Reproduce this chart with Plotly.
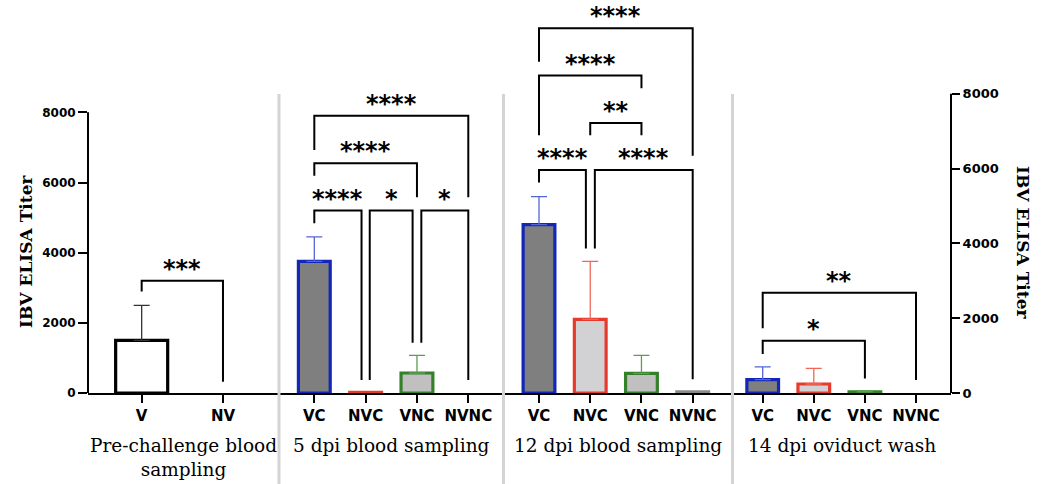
import plotly.graph_objects as go

# ---------------- data ----------------
panel_titles = ["Pre-challenge blood<br>sampling", "5 dpi blood sampling",
                "12 dpi blood sampling", "14 dpi oviduct wash"]

pre_groups = ["V", "NV"]
pre_mean = [1500, 0]
pre_sd = [1000, 0]

groups = ["VC", "NVC", "VNC", "NVNC"]
dpi5_mean = [3750, 20, 570, 0]
dpi5_sd = [700, 0, 500, 0]
dpi12_mean = [4800, 2100, 560, 30]
dpi12_sd = [800, 1650, 510, 0]
dpi14_mean = [360, 240, 30, 0]
dpi14_sd = [340, 420, 20, 0]

y_ticks = [0, 2000, 4000, 6000, 8000]

# significance brackets: (i, j, label, bar level, left leg end, right leg end, left dx, right dx)
pre_sig = [(0, 1, "***", 3200, 2890, 320, 0, 0)]
dpi5_sig = [
    (0, 3, "****", 7900, 6930, 5580, 0, 0),
    (0, 2, "****", 6550, 6190, 5580, 0, 0),
    (0, 1, "****", 5200, 4840, 370, 0, -0.08),
    (1, 2, "*", 5200, 370, 1430, 0.08, -0.085),
    (2, 3, "*", 5200, 1430, 370, 0.085, 0),
]
dpi12_sig = [
    (0, 3, "****", 10400, 9440, 6760, 0, 0),
    (0, 2, "****", 9050, 7350, 8690, 0, 0),
    (1, 2, "**", 7700, 7350, 7350, 0, 0),
    (0, 1, "****", 6360, 6000, 4120, 0, -0.085),
    (1, 3, "****", 6360, 4120, 390, 0.09, 0),
]
dpi14_sig = [
    (0, 3, "**", 2680, 1730, 350, 0, 0),
    (0, 2, "*", 1400, 1040, 390, 0, 0),
]

# ---------------- styles ----------------
W, H = 1046, 484
ML, MR, MT, MB = 88, 95, 10, 91
PW = W - ML - MR
PH = H - MT - MB
LEFT_PX_PER_1000 = 35.08
RIGHT_PX_PER_1000 = 37.41
ymax_left = PH / LEFT_PX_PER_1000 * 1000
ymax_right = PH / RIGHT_PX_PER_1000 * 1000

def px2paperx(px):
    return (px - ML) / PW

def px2papery(py):
    return (MT + PH - py) / PH

sep_px = [279, 503.5, 732.5]
domains = [
    [0, px2paperx(sep_px[0])],
    [px2paperx(sep_px[0]), px2paperx(sep_px[1])],
    [px2paperx(sep_px[1]), px2paperx(sep_px[2])],
    [px2paperx(sep_px[2]), 1],
]
ranges = [[-0.660, 1.689], [-0.688, 3.686], [-0.693, 3.777], [-0.591, 3.685]]

BLUE, RED, GREEN = "#1226b8", "#e8392d", "#35802a"
BLUE_E, RED_E, GREEN_E = "#5365d8", "#f0665c", "#5f9c52"
DARK, LIGHT, MID = "#7f7f7f", "#d2d2d4", "#c0c0c0"
group_style = {
    "VC": (DARK, BLUE, BLUE_E),
    "NVC": (LIGHT, RED, RED_E),
    "VNC": (MID, GREEN, GREEN_E),
    "NVNC": (LIGHT, "#8a8a8a", "#8a8a8a"),
    "V": ("white", "black", "#333333"),
    "NV": ("white", "black", "#333333"),
}

SANS_B = "DejaVu Sans"
SERIF = "DejaVu Serif"

fig = go.Figure()
annotations = []

panels = [
    (pre_groups, pre_mean, pre_sd, pre_sig, 0.64),
    (groups, dpi5_mean, dpi5_sd, dpi5_sig, 0.62),
    (groups, dpi12_mean, dpi12_sd, dpi12_sig, 0.62),
    (groups, dpi14_mean, dpi14_sd, dpi14_sig, 0.62),
]

for p, (cats, means, sds, sigs, bw) in enumerate(panels):
    xa = "x" if p == 0 else f"x{p+1}"
    ya = "y2" if p == 3 else "y"
    for i, (c, m, s) in enumerate(zip(cats, means, sds)):
        fill, edge, errc = group_style[c]
        fig.add_trace(go.Bar(
            x=[i], y=[m], width=bw, xaxis=xa, yaxis=ya,
            marker=dict(color=fill, line=dict(color=edge, width=3.2 if m > 0 else 0)),
            error_y=dict(type="data", symmetric=False, array=[s], arrayminus=[0],
                         visible=s > 0, color=errc, thickness=1.3, width=8),
            showlegend=False, hoverinfo="skip",
        ))
    for (i, j, lab, lvl, yl, yr, dxl, dxr) in sigs:
        x1, x2 = i + dxl, j + dxr
        fig.add_trace(go.Scatter(
            x=[x1, x1, x2, x2], y=[yl, lvl, lvl, yr], mode="lines",
            line=dict(color="black", width=2), xaxis=xa, yaxis=ya,
            showlegend=False, hoverinfo="skip",
        ))
        annotations.append(dict(
            x=(x1 + x2) / 2, y=lvl, xref=xa, yref=ya, text=lab,
            showarrow=False, yanchor="bottom", yshift=-4,
            font=dict(family=SANS_B, size=24, color="black", weight="bold"),
        ))
    # panel title
    cx = (domains[p][0] + domains[p][1]) / 2
    annotations.append(dict(
        x=cx, y=px2papery(433), xref="paper", yref="paper", text=panel_titles[p],
        showarrow=False, yanchor="top", xanchor="center",
        font=dict(family=SERIF, size=18.5, color="black"),
    ))

# axis titles
annotations.append(dict(
    x=px2paperx(26), y=px2papery(252), xref="paper", yref="paper",
    xanchor="center", yanchor="middle",
    text="IBV ELISA Titer", textangle=-90, showarrow=False,
    font=dict(family=SERIF, size=17, color="black", weight="bold"),
))
annotations.append(dict(
    x=px2paperx(1023), y=px2papery(243), xref="paper", yref="paper",
    xanchor="center", yanchor="middle",
    text="IBV ELISA Titer", textangle=90, showarrow=False,
    font=dict(family=SERIF, size=17, color="black", weight="bold"),
))

shapes = [
    dict(type="line", xref="paper", yref="y", x0=0, x1=0, y0=0, y1=y_ticks[-1],
         line=dict(color="black", width=2)),
    dict(type="line", xref="paper", yref="y2", x0=1, x1=1, y0=0, y1=y_ticks[-1],
         line=dict(color="black", width=2)),
]
for sx in sep_px:
    shapes.append(dict(type="line", xref="paper", yref="paper",
                       x0=px2paperx(sx), x1=px2paperx(sx),
                       y0=px2papery(94), y1=px2papery(H),
                       line=dict(color="#d4d4d4", width=3)))

layout = dict(
    width=W, height=H, margin=dict(l=ML, r=MR, t=MT, b=MB),
    paper_bgcolor="white", plot_bgcolor="white",
    barmode="overlay", showlegend=False,
    annotations=annotations, shapes=shapes,
    yaxis=dict(range=[0, ymax_left], tickvals=y_ticks, tickformat="d",
               ticks="outside", ticklen=9, tickwidth=2, tickcolor="black",
               showline=False, showgrid=False, zeroline=False,
               tickfont=dict(family=SANS_B, size=12, color="black", weight="bold"),
               anchor="x", fixedrange=True),
    yaxis2=dict(range=[0, ymax_right], tickvals=y_ticks, tickformat="d",
                ticks="outside", ticklen=8, tickwidth=2, tickcolor="black",
                showline=False, showgrid=False, zeroline=False, side="right",
                tickfont=dict(family=SANS_B, size=13, color="black", weight="bold"),
                anchor="x4", fixedrange=True),
)
for p in range(4):
    cats = panels[p][0]
    key = "xaxis" if p == 0 else f"xaxis{p+1}"
    layout[key] = dict(
        domain=domains[p], range=ranges[p], tickvals=list(range(len(cats))),
        ticktext=cats,
        ticks="outside", ticklen=8, tickwidth=2, tickcolor="black",
        showline=True, linewidth=2, linecolor="black",
        showgrid=False, zeroline=False, anchor="y2" if p == 3 else "y",
        tickfont=dict(family=SANS_B, size=15, color="black", weight="bold"),
        fixedrange=True,
    )

fig.update_layout(**layout)
fig.write_html("out.html", config={"displayModeBar": False},
               post_script="document.body.style.margin='0';document.body.style.padding='0';")
